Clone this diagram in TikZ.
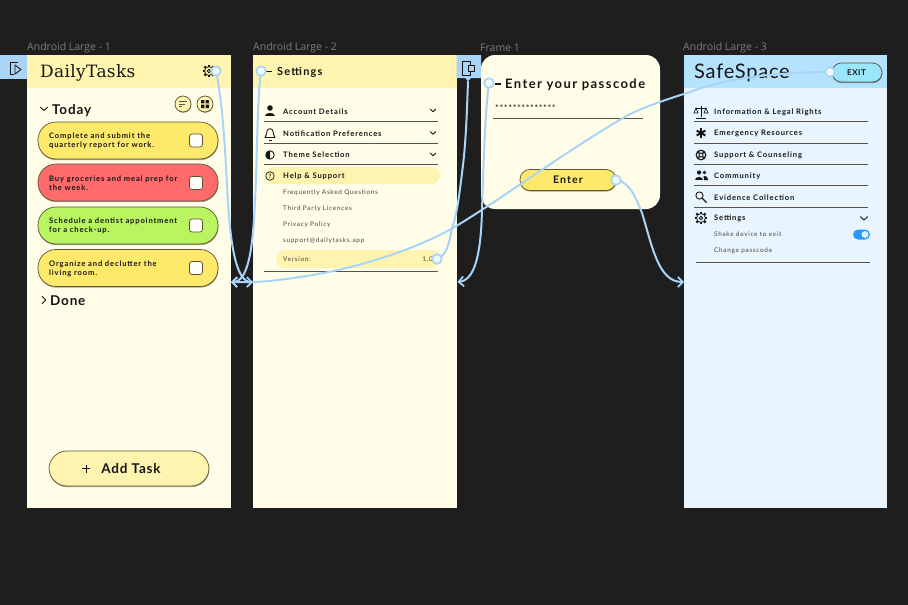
\documentclass[tikz,border=0pt]{standalone}
\usepackage{fontspec}
\usetikzlibrary{arrows.meta,shadows}
\setmainfont[LetterSpace=6]{Lato}
\newfontfamily\wide[LetterSpace=11]{Lato}
\newfontfamily\lab{Open Sans}
\newfontfamily\slab[LetterSpace=2]{DejaVu Serif}
\newfontfamily\safe[LetterSpace=4]{Lato}
\definecolor{bgd}{HTML}{1E1E1E}
\definecolor{cream}{HTML}{FFFDE8}
\definecolor{head}{HTML}{FFF5B0}
\definecolor{hl}{HTML}{FFF3B0}
\definecolor{sky}{HTML}{E8F5FF}
\definecolor{skyh}{HTML}{B5E2FD}
\definecolor{wire}{HTML}{A8D5F7}
\definecolor{ink}{HTML}{161616}
\definecolor{edge}{HTML}{5C5330}
\definecolor{rule}{HTML}{55534A}
\definecolor{cy}{HTML}{FFE96B}
\definecolor{cr}{HTML}{FF6B6B}
\definecolor{cg}{HTML}{B8F560}
\newcommand{\fs}[1]{\fontsize{#1}{#1}\selectfont}
\tikzset{
 x=1pt,y=-1pt,
 framelabel/.style={anchor=west,text=white!42!bgd,font=\lab\fs{10.5},inner sep=0},
 card/.style={draw=edge,line width=.7pt,fill=#1,rounded corners=18pt,minimum width=180pt,minimum height=37pt,inner sep=0,
   drop shadow={shadow xshift=.4pt,shadow yshift=-1.2pt,fill=black,opacity=.35}},
 cardtext/.style={anchor=west,align=left,inner sep=0,text=ink,yshift=-.5pt,font=\wide\bfseries\fontsize{7.6}{9}\selectfont},
 check/.style={draw=edge,line width=.7pt,fill=white!70!cream,rounded corners=2.5pt,minimum size=13pt,inner sep=0},
 big/.style={anchor=west,inner sep=0,text=ink,yshift=-.8pt,font=\bfseries\fs{13.5}},
 item/.style={anchor=west,inner sep=0,text=ink,yshift=-.5pt,font=\wide\bfseries\fs{7.6}},
 sub/.style={anchor=west,inner sep=0,text=ink!80!white,yshift=-.5pt,font=\wide\fs{6.4}},
 rl/.style={draw=rule,line width=.8pt},
 chev/.style={draw=ink,line width=.9pt,line cap=round,line join=round},
 ico/.style={draw=ink,line width=.9pt},
 lnk/.style={draw=wire,line width=2pt},
 lnka/.style={lnk,-{Straight Barb[length=5pt,width=10pt,line width=1.7pt]}},
 handle/.style={circle,draw=wire,line width=1.7pt,fill=#1,minimum size=9.5pt,inner sep=0},
 round/.style={circle,draw=edge,line width=.7pt,fill=hl,minimum size=16pt,inner sep=0,
   drop shadow={shadow xshift=.3pt,shadow yshift=-.8pt,fill=black,opacity=.35}},
}
\newcommand{\chevd}[2]{\draw[chev] (#1-3.5,#2-1.7) -- (#1,#2+1.5) -- (#1+3.5,#2-1.7);}
\newcommand{\chevs}[2]{\draw[chev] (#1-2.7,#2-1.3) -- (#1,#2+1.2) -- (#1+2.7,#2-1.3);}
\newcommand{\chevr}[2]{\draw[chev] (#1-1.7,#2-3.5) -- (#1+1.7,#2) -- (#1-1.7,#2+3.5);}
\newcommand{\gearicon}[4]{%
  \foreach \a in {0,45,...,315}{\draw[ink,line width=#3*.38pt] (#1,#2) ++(\a:#3*.72) -- ++(\a:#3*.36);}
  \draw[ink,line width=.8pt,fill=#4] (#1,#2) circle (#3*.74);
  \draw[ink,line width=.8pt] (#1,#2) circle (#3*.3);
}
\begin{document}
\begin{tikzpicture}
\useasboundingbox (0,0) rectangle (908,605);
\fill[bgd] (0,0) rectangle (908,605);

% frame labels
\node[framelabel] (l1) at (27,48) {Android Large - 1};
\node[framelabel] (l2) at (253,48) {Android Large - 2};
\node[framelabel] (l3) at (480,48) {Frame 1};
\node[framelabel] (l4) at (683,48) {Android Large - 3};

% left tab
\fill[wire] (0,55) rectangle (27,79);
\draw[ink,line width=.9pt,line join=round] (18,62) -- (10,62) -- (10,74) -- (14,74);
\draw[ink,line width=.9pt,line join=round] (15,65) -- (21,69.5) -- (15,74) -- cycle;

% frames
\fill[cream] (27,55) rectangle (231,508);
\fill[head] (27,55) rectangle (231,88);
\fill[cream] (253,55) rectangle (457,508);
\fill[head] (253,55) rectangle (457,88);
\fill[cream,rounded corners=14pt] (481,55) rectangle (660,209);
\fill[sky] (684,55) rectangle (887,508);
\fill[skyh] (684,55) rectangle (887,88);

% middle tab
\fill[wire] (456.5,55) -- (481,55) -- (481,78) -- (471,78) -- (468,81) -- (465,78) -- (456.5,78) -- cycle;
\draw[ink,line width=.9pt,line join=round] (462,61) rectangle (470,75);
\draw[ink,line width=.9pt,fill=wire] (468,65) rectangle (474,71);

% ---- screen 1
\node[anchor=west,inner sep=0,text=ink,font=\slab\fs{17},yshift=-2pt] (title1) at (40,71) {DailyTasks};
\gearicon{209}{71}{6}{head}
\chevd{44}{109}
\node[big] (today) at (52,109.5) {Today};
\node[round] (sortb) at (183,104) {};
\node[round] (gridb) at (205,104) {};
\draw[rule,line width=.7pt] (179,101.5) -- (187,101.5) (179,104) -- (185,104) (179,106.5) -- (182,106.5);
\fill[ink] (201,100) rectangle (204.4,103.4) (205.6,100) rectangle (209,103.4) (201,104.6) rectangle (204.4,108) (205.6,104.6) rectangle (209,108);

\node[card=cy] (c1) at (128,140.5) {};
\node[card=cr] (c2) at (128,182.5) {};
\node[card=cg] (c3) at (128,225.5) {};
\node[card=cy] (c4) at (128,268) {};
\node[cardtext] (t1) at (49,140.5) {Complete and submit the\\quarterly report for work.};
\node[cardtext] (t2) at (49,182.5) {Buy groceries and meal prep for\\the week.};
\node[cardtext] (t3) at (49,225.5) {Schedule a dentist appointment\\for a check-up.};
\node[cardtext] (t4) at (49,268) {Organize and declutter the\\living room.};
\node[check] (k1) at (196,140.5) {};
\node[check] (k2) at (196,183) {};
\node[check] (k3) at (196,225.5) {};
\node[check] (k4) at (196,268) {};
\chevr{44}{300}
\node[big] (done) at (50,300) {Done};
\node[card=hl,minimum width=160pt,minimum height=35pt] (add) at (129,468.5) {};
\node[inner sep=0,text=ink,font=\bfseries\fs{13.5}] (addt) at (131,468.5) {Add Task};
\draw[ink,line width=1pt] (82,468.5) -- (90,468.5) (86,464.5) -- (86,472.5);

% ---- screen 2
\draw[ink,line width=1.2pt] (266,71.5) -- (272,71.5);
\node[anchor=west,inner sep=0,text=ink,yshift=-.8pt,font=\wide\bfseries\fs{11}] (t2a) at (277,72) {Settings};
\fill[hl,rounded corners=8.5pt] (265,167) rectangle (440,184);
\fill[hl,rounded corners=9pt] (276,250) rectangle (440,268);
\foreach \y in {121.5,143,164.5,271}{\draw[rl] (264,\y) -- (438,\y);}
\fill[ink] (270,108) circle (2.8);
\fill[ink] (265,116) .. controls (265,111.5) and (275,111.5) .. (275,116) -- cycle;
\draw[ico,line join=round] (265,137.5) .. controls (267,135) and (266.5,133) .. (267,131) .. controls (267.6,128) and (272.4,128) .. (273,131) .. controls (273.5,133) and (273,135) .. (275,137.5) -- cycle;
\fill[ink] (268.5,139.5) rectangle (271.5,140.5);
\draw[ico] (270,155) circle (4.2);
\fill[ink] (270,159.2) arc (90:270:4.2) -- cycle;
\draw[ico,line width=.7pt] (270,176) circle (4.3);
\node[inner sep=0,text=ink,font=\bfseries\fs{6}] (qm) at (270,176) {?};
\node[item] (a1) at (283,111) {Account Details};
\node[item] (a2) at (283,133) {Notification Preferences};
\node[item] (a3) at (283,154.5) {Theme Selection};
\node[item] (a4) at (283,176) {Help \& Support};
\chevs{433}{110.5}
\chevs{433}{133}
\chevs{433}{154.5}
\node[sub] (s1) at (283,192.5) {Frequently Asked Questions};
\node[sub] (s2) at (283,208.5) {Third Party Licences};
\node[sub] (s3) at (283,224.5) {Privacy Policy};
\node[sub] (s4) at (283,240) {support@dailytasks.app};
\node[sub] (s5) at (283,259) {Version:};
\node[sub,anchor=east] (s6) at (433,259) {1.0};

% ---- frame 1
\draw[ink,line width=1.2pt] (495,84) -- (501,84);
\node[anchor=west,inner sep=0,text=ink,yshift=-.8pt,font=\wide\bfseries\fs{13}] (t3a) at (505,84) {Enter your passcode};
\node[anchor=west,inner sep=0,text=ink,font=\fs{9}] (pw) at (495,108) {**************};
\draw[rl] (493,118.5) -- (643,118.5);
\node[card=cy,minimum width=96pt,minimum height=21pt,rounded corners=10pt] (enter) at (568,180) {};
\node[inner sep=0,text=ink,font=\wide\bfseries\fs{10.5}] (entert) at (568,180) {Enter};

% ---- screen 3
\node[anchor=west,inner sep=0,text=ink,yshift=-.8pt,font=\safe\fs{20}] (t4a) at (694,72.5) {SafeSpace};
\foreach \y in {121.5,143,164.5,185.5,207}{\draw[rl] (694,\y) -- (868,\y);}
\draw[rl] (696,262) -- (870,262);
\node[item] (b1) at (714,112) {Information \& Legal Rights};
\node[item] (b2) at (714,133) {Emergency Resources};
\node[item] (b3) at (714,155) {Support \& Counseling};
\node[item] (b4) at (714,176) {Community};
\node[item] (b5) at (714,197) {Evidence Collection};
\node[item] (b6) at (714,218) {Settings};
\node[sub] (b7) at (714,234) {Shake device to exit};
\node[sub] (b8) at (714,250) {Change passcode};
\chevd{864}{218.5}
% scales
\draw[ink,line width=.8pt] (701,106) -- (701,117) (696,118) -- (706,118) (696,108) -- (706,108);
\draw[ink,line width=.7pt] (696,108) -- (694,113) -- (698,113) -- cycle (706,108) -- (704,113) -- (708,113) -- cycle;
% asterisk
\foreach \a in {90,150,210,270,330,30}{\draw[ink,line width=2pt] (701,133) -- ++(\a:5);}
% lifebuoy
\draw[ink,line width=1.2pt] (701,155) circle (4.8);
\draw[ink,line width=.9pt] (701,155) circle (2);
\foreach \a in {45,135,225,315}{\draw[ink,line width=1.2pt] (701,155) ++(\a:2) -- ++(\a:3);}
% people
\fill[ink] (699,172.5) circle (2.1) (704.5,172.5) circle (1.8);
\fill[ink] (695,180) .. controls (695,175.5) and (703,175.5) .. (703,180) -- cycle;
\fill[ink] (704,180) -- (708,180) .. controls (708,176.5) and (705,175.5) .. (703.5,176) -- cycle;
% magnifier
\draw[ico] (699.5,195.5) circle (3.6);
\draw[ink,line width=1.1pt] (702,198) -- (706.5,202.5);
\gearicon{701}{218}{6}{sky}
% toggle
\node[draw=none,fill=wire!40!blue!60!cyan,rounded corners=5pt,minimum width=17pt,minimum height=10pt,inner sep=0] (tog) at (861.5,234.5) {};
\node[circle,fill=white!85!cyan,minimum size=7pt,inner sep=0] (togk) at (865,234.5) {};
\node[card=skyh!85!cyan,minimum width=50pt,minimum height=19pt,rounded corners=9.5pt] (exit) at (857,72.5) {};
\node[inner sep=0,text=ink,font=\bfseries\fs{8}] (exitt) at (856.5,72.5) {EXIT};

% connector ends
\coordinate (a12) at (253,282);
\coordinate (a21) at (231,282);
\coordinate (a23) at (457.5,282);
\coordinate (a34) at (684,282);
\coordinate (tabp) at (468,81);
\coordinate (gearc) at (216,71);
\coordinate (backc) at (261,71);
\coordinate (verc) at (437,259);
\coordinate (passc) at (489,83);
\coordinate (entc) at (616,180);
\coordinate (exc) at (830,72);

% connectors
\draw[lnka] (gearc) .. controls (224,110) and (226,170) .. (228,202) .. controls (231,250) and (237,282) .. (a12);
\draw[lnka] (backc) .. controls (257,100) and (257,170) .. (255,200) .. controls (253,250) and (248,282) .. (a21);
\draw[lnk] (tabp) .. controls (467,110) and (466,140) .. (463,165) .. controls (460,190) and (457,215) .. (452,228) .. controls (449,245) and (446,256) .. (verc);
\draw[lnka] (passc) .. controls (485,110) and (483,180) .. (482,210) .. controls (481,250) and (476,280) .. (a23);
\draw[lnka] (entc) .. controls (630,182) and (636,198) .. (642,213) .. controls (652,245) and (658,282) .. (a34);
\draw[lnka] (exc) .. controls (790,72) and (730,76) .. (690,92) .. controls (665,100) and (640,108) .. (623,118) .. controls (560,155) and (500,200) .. (453,228) .. controls (410,252) and (350,270) .. (300,277) .. controls (280,280) and (260,283) .. (a21);

\node[handle=white!85!wire] (h1) at (gearc) {};
\node[handle=white!85!wire] (h2) at (backc) {};
\node[handle=white!85!wire] (h3) at (verc) {};
\node[handle=white!85!wire] (h4) at (passc) {};
\node[handle=white!85!wire] (h5) at (entc) {};
\node[handle=white!85!wire] (h6) at (exc) {};
\end{tikzpicture}
\end{document}
